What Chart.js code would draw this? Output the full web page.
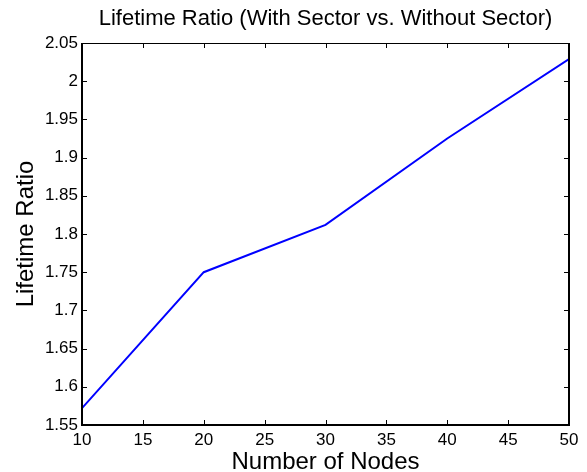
<!DOCTYPE html>
<html>
<head>
<meta charset="utf-8">
<script src="https://cdn.jsdelivr.net/npm/chart.js@4/dist/chart.umd.min.js"></script>
<style>
  body { margin: 0; background: #fff; }
  canvas { display: block; }
</style>
</head>
<body>
<canvas id="myChart" width="587" height="472"></canvas>
<script>
// data
const nodes = [10, 20, 30, 40, 50];
const lifetimeRatio = [1.572, 1.750, 1.812, 1.925, 2.029];

// tick labels
const xTicks = [10, 15, 20, 25, 30, 35, 40, 45, 50];
const yTicks = [1.55, 1.6, 1.65, 1.7, 1.75, 1.8, 1.85, 1.9, 1.95, 2, 2.05];

const FONT = "'Liberation Sans', Arial, Helvetica, sans-serif";

// box round the plot with inward ticks, matlab style
const axesBox = {
    id: 'axesBox',
    afterDatasetsDraw(chart) {
        const {ctx, chartArea: a, scales} = chart;
        ctx.save();
        ctx.strokeStyle = '#000';
        ctx.lineWidth = 1;
        xTicks.forEach(v => {
            const px = Math.round(scales.x.getPixelForValue(v)) + 0.5;
            ctx.beginPath();
            ctx.moveTo(px, a.bottom); ctx.lineTo(px, a.bottom - 5);
            ctx.moveTo(px, a.top); ctx.lineTo(px, a.top + 5);
            ctx.stroke();
        });
        yTicks.forEach(v => {
            const py = Math.round(scales.y.getPixelForValue(v)) + 0.5;
            ctx.beginPath();
            ctx.moveTo(a.left, py); ctx.lineTo(a.left + 5, py);
            ctx.moveTo(a.right, py); ctx.lineTo(a.right - 5, py);
            ctx.stroke();
        });
        // top edge thin
        ctx.beginPath();
        ctx.moveTo(a.left, Math.round(a.top) + 0.5);
        ctx.lineTo(a.right, Math.round(a.top) + 0.5);
        ctx.stroke();
        // left, bottom, right thicker
        ctx.lineWidth = 2;
        ctx.beginPath();
        ctx.moveTo(Math.round(a.left), a.top);
        ctx.lineTo(Math.round(a.left), Math.round(a.bottom));
        ctx.lineTo(Math.round(a.right), Math.round(a.bottom));
        ctx.lineTo(Math.round(a.right), a.top);
        ctx.stroke();
        ctx.restore();
    }
};

const data = {
    datasets: [{
        label: 'Lifetime Ratio',
        data: nodes.map((n, i) => ({x: n, y: lifetimeRatio[i]})),
        borderColor: '#0000ff',
        backgroundColor: '#0000ff',
        borderWidth: 2,
        pointRadius: 0,
        tension: 0,
        fill: false
    }]
};

const config = {
    type: 'line',
    data,
    options: {
        responsive: false,
        animation: false,
        devicePixelRatio: 1,
        layout: { padding: { top: 0, right: 18, bottom: 0, left: 0 } },
        plugins: {
            legend: { display: false },
            tooltip: { enabled: false }
        },
        scales: {
            x: {
                type: 'linear',
                min: 10,
                max: 50,
                afterBuildTicks: s => { s.ticks = xTicks.map(v => ({value: v})); },
                afterFit: s => { s.height = 47; },
                grid: { display: false, drawTicks: false },
                border: { display: false },
                ticks: {
                    color: '#000',
                    padding: 5,
                    maxRotation: 0,
                    autoSkip: false,
                    font: { family: FONT, size: 17 },
                    callback: v => String(v)
                },
                title: {
                    display: true,
                    text: 'Number of Nodes',
                    color: '#000',
                    font: { family: FONT, size: 24, lineHeight: 0.8 },
                    padding: 0
                }
            },
            // top axis only carries the plot title, centred over the plot
            top: {
                type: 'linear',
                position: 'top',
                min: 10,
                max: 50,
                afterFit: s => { s.height = 43; },
                grid: { display: false, drawTicks: false },
                border: { display: false },
                ticks: { display: false },
                title: {
                    display: true,
                    text: 'Lifetime Ratio (With Sector vs. Without Sector)',
                    color: '#000',
                    font: { family: FONT, size: 22, lineHeight: 1.2 },
                    padding: { top: 6, bottom: 0 }
                }
            },
            y: {
                min: 1.55,
                max: 2.05,
                afterBuildTicks: s => { s.ticks = yTicks.map(v => ({value: v})); },
                afterFit: s => { s.width = 82; },
                grid: { display: false, drawTicks: false },
                border: { display: false },
                ticks: {
                    color: '#000',
                    padding: 4,
                    autoSkip: false,
                    font: { family: FONT, size: 17 },
                    callback: v => String(Number(v.toFixed(2)))
                },
                title: {
                    display: true,
                    text: 'Lifetime Ratio',
                    color: '#000',
                    font: { family: FONT, size: 24, lineHeight: 1.2 },
                    padding: { top: 12, bottom: 0 }
                }
            }
        }
    },
    plugins: [axesBox]
};

const myChart = new Chart(document.getElementById('myChart'), config);
</script>
</body>
</html>
